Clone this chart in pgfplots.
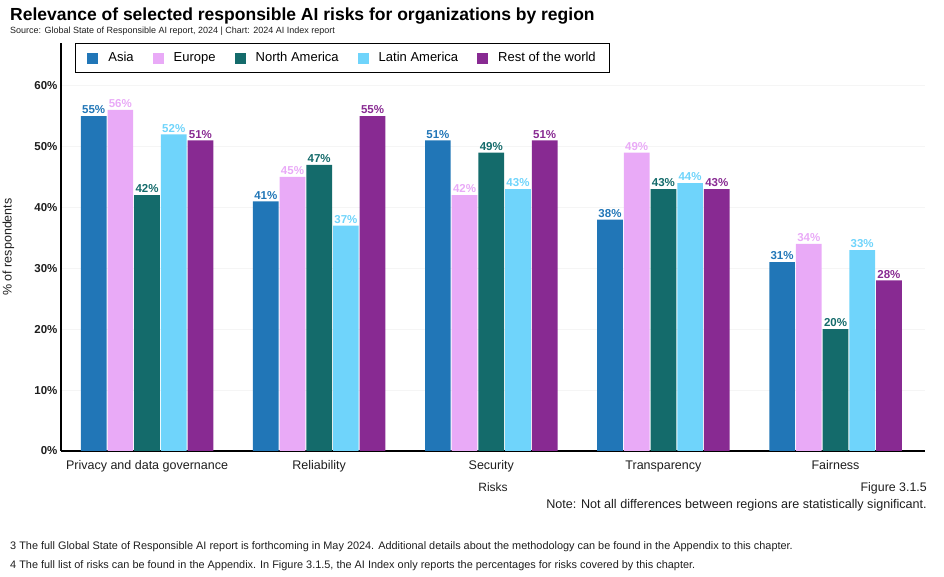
\documentclass[border=0pt]{standalone}
\usepackage{pgfplots}
\pgfplotsset{compat=1.18}
\usepackage{fontspec}
\setmainfont{Liberation Sans}
\definecolor{asia}{RGB}{33,118,183}
\definecolor{europe}{RGB}{233,170,247}
\definecolor{namer}{RGB}{20,107,107}
\definecolor{latam}{RGB}{111,212,251}
\definecolor{rest}{RGB}{136,42,146}
\definecolor{txt}{RGB}{30,30,30}
\begin{document}
\begin{tikzpicture}
\useasboundingbox (0,0) rectangle (944pt,577pt);
\node[anchor=west,inner sep=0pt] at (10pt,561pt) {\fontsize{17.5}{20}\selectfont\bfseries Relevance of selected responsible AI risks for organizations by region};
\node[anchor=west,inner sep=0pt,text=txt] at (10pt,546pt) {\fontsize{9}{10}\selectfont Source: Global State of Responsible AI report, 2024 | Chart: 2024 AI Index report};
\begin{axis}[
  at={(61pt,126pt)}, anchor=south west,
  scale only axis, width=864pt, height=408pt,
  ybar=1pt, bar width=25.7pt,
  xmin=-0.5, xmax=4.52, ymin=0, ymax=67,
  xtick=data,
  xticklabels={Privacy and data governance,Reliability,Security,Transparency,Fairness},
  ytick={0,10,20,30,40,50,60},
  yticklabel={\pgfmathprintnumber{\tick}\%},
  /pgf/number format/assume math mode=true,
  axis x line*=bottom, axis y line*=left,
  axis line style={line width=1.4pt, black},
  x axis line style={-}, y axis line style={-},
  major tick length=0pt,
  ymajorgrids, grid style={gray!8},
  xticklabel style={font=\fontsize{12.5}{14}\selectfont, text=txt, yshift=-6pt},
  yticklabel style={font=\fontsize{11.5}{13}\selectfont\bfseries, text=txt},
  xlabel={Risks}, ylabel={\% of respondents},
  label style={font=\fontsize{12}{14}\selectfont, text=txt},
  ylabel style={at={(axis description cs:-0.05,0.5)}, font=\fontsize{12.5}{14}\selectfont},
  xlabel style={yshift=-4pt},
  nodes near coords={\pgfmathprintnumber{\pgfplotspointmeta}\%},
  nodes near coords style={font=\fontsize{11.5}{12}\selectfont\bfseries, inner sep=2pt},
  legend columns=5,
  legend style={at={(axis description cs:0.016,1)}, anchor=north west,
    draw=black, line width=1.2pt, font=\fontsize{13}{15}\selectfont,
    inner xsep=12pt, inner ysep=7pt,
    nodes={text height=1.6ex, text depth=0.45ex},
    /tikz/every odd column/.append style={column sep=8pt},
    /tikz/every even column/.append style={column sep=17pt}},
  legend image code/.code={\fill[#1] (0pt,-5.5pt) rectangle (11pt,5.5pt);},
]
\addplot[fill=asia, draw=none, every node near coord/.append style={text=asia}] coordinates {(0,55) (1,41) (2,51) (3,38) (4,31)};
\addplot[fill=europe, draw=none, every node near coord/.append style={text=europe}] coordinates {(0,56) (1,45) (2,42) (3,49) (4,34)};
\addplot[fill=namer, draw=none, every node near coord/.append style={text=namer}] coordinates {(0,42) (1,47) (2,49) (3,43) (4,20)};
\addplot[fill=latam, draw=none, every node near coord/.append style={text=latam}] coordinates {(0,52) (1,37) (2,43) (3,44) (4,33)};
\addplot[fill=rest, draw=none, every node near coord/.append style={text=rest}] coordinates {(0,51) (1,55) (2,51) (3,43) (4,28)};
\legend{Asia,Europe,North America,Latin America,Rest of the world}
\end{axis}
\node[anchor=east,inner sep=0pt,text=txt] at (927pt,89pt) {\fontsize{12.4}{14}\selectfont Figure 3.1.5};
\node[anchor=east,inner sep=0pt,text=txt] at (927pt,72pt) {\fontsize{12.6}{14}\selectfont Note: Not all differences between regions are statistically significant.};
\node[anchor=west,inner sep=0pt,text=txt] at (10pt,30pt) {\fontsize{10.9}{12}\selectfont 3 The full Global State of Responsible AI report is forthcoming in May 2024. Additional details about the methodology can be found in the Appendix to this chapter.};
\node[anchor=west,inner sep=0pt,text=txt] at (10pt,11pt) {\fontsize{10.9}{12}\selectfont 4 The full list of risks can be found in the Appendix. In Figure 3.1.5, the AI Index only reports the percentages for risks covered by this chapter.};
\end{tikzpicture}
\end{document}
